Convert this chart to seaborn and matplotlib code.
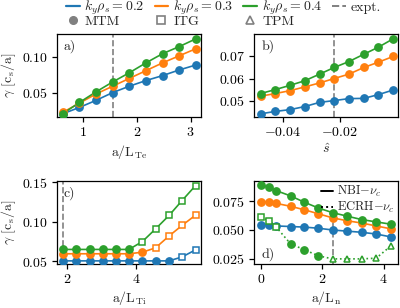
import matplotlib
matplotlib.use("Agg")
import matplotlib.pyplot as plt
from matplotlib.lines import Line2D
import numpy as np
import pandas as pd
import seaborn as sns

# ── data ─────────────────────────────────────────────────────
ky_labels = [r"$k_y\rho_s = 0.2$", r"$k_y\rho_s = 0.3$", r"$k_y\rho_s = 0.4$"]

# a) gamma vs a/L_Te
a_x = [0.62, 0.93, 1.24, 1.55, 1.86, 2.17, 2.48, 2.79, 3.10]
a_y02 = [0.020, 0.029, 0.039, 0.050, 0.059, 0.067, 0.074, 0.082, 0.089]
a_y03 = [0.022, 0.035, 0.048, 0.059, 0.070, 0.081, 0.092, 0.102, 0.112]
a_y04 = [0.020, 0.036, 0.051, 0.065, 0.078, 0.092, 0.105, 0.115, 0.126]
a_expt = 1.55

# b) gamma vs s-hat
b_x = [-0.0477, -0.0425, -0.0374, -0.0322, -0.0270, -0.0219, -0.0167, -0.0115, -0.0064, -0.0012]
b_y02 = [0.0440, 0.0451, 0.0459, 0.0473, 0.0492, 0.0500, 0.0509, 0.0510, 0.0527, 0.0548]
b_y03 = [0.0520, 0.0532, 0.0545, 0.0562, 0.0580, 0.0600, 0.0620, 0.0650, 0.0674, 0.0700]
b_y04 = [0.0532, 0.0550, 0.0569, 0.0590, 0.0620, 0.0650, 0.0677, 0.0710, 0.0742, 0.0780]
b_expt = -0.0219

# c) gamma vs a/L_Ti  (M = MTM, I = ITG, T = TPM)
c_x = [1.90, 2.28, 2.66, 3.04, 3.42, 3.80, 4.19, 4.57, 4.96, 5.34, 5.73]
c_y02 = [0.0505] * 9 + [0.0555, 0.0645]
c_m02 = ["M"] * 9 + ["I"] * 2
c_y03 = [0.0595] * 6 + [0.0615, 0.067, 0.082, 0.0955, 0.1085]
c_m03 = ["M"] * 7 + ["I"] * 4
c_y04 = [0.065] * 6 + [0.075, 0.091, 0.108, 0.127, 0.146]
c_m04 = ["M"] * 6 + ["I"] * 5
c_expt = 1.90

# d) gamma vs a/L_n, NBI (solid) and ECRH (dotted) collisionality
d_x = [0.0, 0.27, 0.51, 0.97, 1.42, 1.88, 2.34, 2.81, 3.29, 3.76, 4.24]
d_y02 = [0.0545, 0.054, 0.0535, 0.053, 0.0525, 0.0515, 0.050, 0.049, 0.048, 0.0465, 0.044]
d_y03 = [0.0745, 0.0745, 0.073, 0.0705, 0.0675, 0.064, 0.0605, 0.058, 0.056, 0.0535, 0.051]
d_y04 = [0.089, 0.087, 0.084, 0.0795, 0.074, 0.069, 0.065, 0.062, 0.059, 0.057, 0.055]
d_ecrh04 = [0.061, 0.058, 0.0523, 0.038, 0.0329, 0.0276, 0.025, 0.025, 0.025, 0.0256, 0.0363]
d_ecrh04_m = ["I"] * 3 + ["M"] * 3 + ["T"] * 5
d_expt = 2.34

# ── style ────────────────────────────────────────────────────
sns.set_style("ticks")
plt.rcParams.update({
    "font.family": "serif",
    "font.serif": ["cmr10", "DejaVu Serif"],
    "mathtext.fontset": "cm",
    "axes.formatter.use_mathtext": True,
    "font.size": 10,
    "axes.labelsize": 10,
    "xtick.labelsize": 10,
    "ytick.labelsize": 10,
    "legend.fontsize": 10,
    "axes.linewidth": 0.9,
    "xtick.major.width": 0.9,
    "ytick.major.width": 0.9,
    "xtick.major.size": 3.5,
    "ytick.major.size": 3.5,
    "xtick.major.pad": 3.0,
    "ytick.major.pad": 3.0,
    "axes.labelpad": 2.5,
    "xtick.color": "black",
    "ytick.color": "black",
    "axes.edgecolor": "black",
})

colors = sns.color_palette("tab10", 3)
MARKERS = {"M": ("o", True), "I": ("s", False), "T": ("^", False)}
MS = 5.2


def draw_series(ax, x, y, color, modes=None, ls="-"):
    """Line through all points, markers styled by instability regime."""
    if modes is None:
        modes = ["M"] * len(x)
    df = pd.DataFrame({"x": x, "y": y, "mode": modes})
    sns.lineplot(data=df, x="x", y="y", ax=ax, color=color, lw=1.2,
                 linestyle=ls, sort=False, legend=False, zorder=2)
    for mode, grp in df.groupby("mode"):
        mk, filled = MARKERS[mode]
        ax.plot(grp["x"], grp["y"], linestyle="none", marker=mk,
                ms=MS if filled else MS * 0.95,
                color=color, mfc=color if filled else "white", mec=color,
                mew=1.1, zorder=3)


fig, axes = plt.subplots(2, 2, figsize=(4.0, 3.08), dpi=100)
fig.subplots_adjust(left=0.142, right=0.995, top=0.889, bottom=0.143,
                    wspace=0.37, hspace=0.77)
ax_a, ax_b, ax_c, ax_d = axes.ravel()

# a)
for y, c in zip([a_y02, a_y03, a_y04], colors):
    draw_series(ax_a, a_x, y, c)
ax_a.axvline(a_expt, color="gray", ls="--", lw=1.2, zorder=1)
ax_a.set_xlim(0.51, 3.19)
ax_a.set_ylim(0.0153, 0.1325)
ax_a.set_xticks([1, 2, 3])
ax_a.set_yticks([0.05, 0.10])
ax_a.set_xlabel(r"a/L$_\mathrm{Te}$")
ax_a.set_ylabel(r"$\gamma$ [c$_\mathrm{s}$/a]")
ax_a.text(0.05, 0.93, "a)", transform=ax_a.transAxes, va="top", ha="left")

# b)
for y, c in zip([b_y02, b_y03, b_y04], colors):
    draw_series(ax_b, b_x, y, c)
ax_b.axvline(b_expt, color="gray", ls="--", lw=1.2, zorder=1)
ax_b.set_xlim(-0.0500, 0.0005)
ax_b.set_ylim(0.0425, 0.0801)
ax_b.set_xticks([-0.04, -0.02])
ax_b.set_yticks([0.05, 0.06, 0.07])
ax_b.set_xlabel(r"$\hat{s}$")
ax_b.set_ylabel("")
ax_b.text(0.05, 0.93, "b)", transform=ax_b.transAxes, va="top", ha="left")

# c)
for y, m, c in zip([c_y02, c_y03, c_y04], [c_m02, c_m03, c_m04], colors):
    draw_series(ax_c, c_x, y, c, m)
ax_c.axvline(c_expt, color="gray", ls="--", lw=1.2, zorder=1)
ax_c.set_xlim(1.71, 5.88)
ax_c.set_ylim(0.0466, 0.1517)
ax_c.set_xticks([2, 4])
ax_c.set_yticks([0.05, 0.10, 0.15])
ax_c.set_xlabel(r"a/L$_\mathrm{Ti}$")
ax_c.set_ylabel(r"$\gamma$ [c$_\mathrm{s}$/a]")
ax_c.text(0.05, 0.93, "c)", transform=ax_c.transAxes, va="top", ha="left")

# d)
for y, c in zip([d_y02, d_y03, d_y04], colors):
    draw_series(ax_d, d_x, y, c)
draw_series(ax_d, d_x, d_ecrh04, colors[2], d_ecrh04_m, ls=":")
ax_d.axvline(d_expt, ymax=0.62, color="gray", ls="--", lw=1.2, zorder=1)
ax_d.set_xlim(-0.22, 4.47)
ax_d.set_ylim(0.0206, 0.0924)
ax_d.set_xticks([0, 2, 4])
ax_d.set_yticks([0.025, 0.050, 0.075])
ax_d.set_xlabel(r"a/L$_\mathrm{n}$")
ax_d.set_ylabel("")
ax_d.text(0.05, 0.03, "d)", transform=ax_d.transAxes, va="bottom", ha="left")
nu_handles = [Line2D([], [], color="black", ls="-", lw=1.4),
              Line2D([], [], color="black", ls=":", lw=1.4)]
ax_d.legend(nu_handles, [r"NBI$-\nu_c$", r"ECRH$-\nu_c$"], loc="upper right",
            frameon=False, handlelength=1.0, handletextpad=0.3, fontsize=9,
            labelspacing=0.05, borderaxespad=0.15, borderpad=0.1)

# top legend: ky lines on the first row, regime markers on the second
ky_h = [Line2D([], [], color=c, lw=1.6) for c in colors]
reg_h = [Line2D([], [], ls="none", marker="o", color="gray", ms=5.5),
         Line2D([], [], ls="none", marker="s", color="gray", mfc="white", ms=5.5, mew=1.2),
         Line2D([], [], ls="none", marker="^", color="gray", mfc="white", ms=5.5, mew=1.2)]
expt_h = Line2D([], [], color="gray", ls="--", lw=1.4)
handles = [ky_h[0], reg_h[0], ky_h[1], reg_h[1], ky_h[2], reg_h[2], expt_h]
labels = [ky_labels[0], "MTM", ky_labels[1], "ITG", ky_labels[2], "TPM", "expt."]
fig.legend(handles, labels, loc="upper left", bbox_to_anchor=(0.14, 1.035), ncol=4,
           frameon=False, handlelength=1.0, handletextpad=0.35, columnspacing=0.7,
           labelspacing=-0.15, borderpad=0.2)

fig.savefig("out.png", dpi=100)
